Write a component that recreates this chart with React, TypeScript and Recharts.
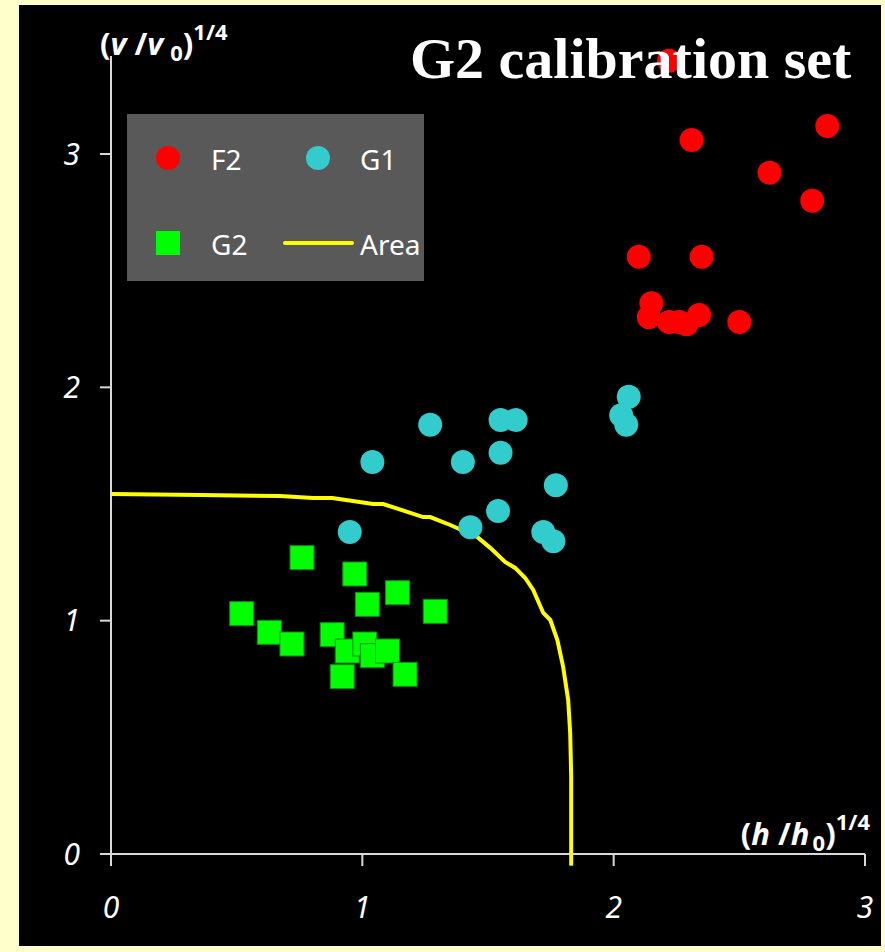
import { ScatterChart, Scatter, XAxis, YAxis, Legend, ReferenceLine } from 'recharts'

// calibration points, (h/h0)^1/4 vs (v/v0)^1/4
const F2 = [
  { x: 2.22, y: 3.4 },
  { x: 2.31, y: 3.06 },
  { x: 2.85, y: 3.12 },
  { x: 2.62, y: 2.92 },
  { x: 2.79, y: 2.8 },
  { x: 2.1, y: 2.56 },
  { x: 2.35, y: 2.56 },
  { x: 2.15, y: 2.36 },
  { x: 2.14, y: 2.3 },
  { x: 2.22, y: 2.28 },
  { x: 2.26, y: 2.28 },
  { x: 2.29, y: 2.27 },
  { x: 2.34, y: 2.31 },
  { x: 2.5, y: 2.28 },
]

const G1 = [
  { x: 1.27, y: 1.84 },
  { x: 1.04, y: 1.68 },
  { x: 1.4, y: 1.68 },
  { x: 1.55, y: 1.86 },
  { x: 1.61, y: 1.86 },
  { x: 1.55, y: 1.72 },
  { x: 1.77, y: 1.58 },
  { x: 1.54, y: 1.47 },
  { x: 1.43, y: 1.4 },
  { x: 0.95, y: 1.38 },
  { x: 1.72, y: 1.38 },
  { x: 1.76, y: 1.34 },
  { x: 2.06, y: 1.96 },
  { x: 2.03, y: 1.88 },
  { x: 2.05, y: 1.84 },
]

const G2 = [
  { x: 0.76, y: 1.27 },
  { x: 0.97, y: 1.2 },
  { x: 1.14, y: 1.12 },
  { x: 1.02, y: 1.07 },
  { x: 0.52, y: 1.03 },
  { x: 1.29, y: 1.04 },
  { x: 0.63, y: 0.95 },
  { x: 0.72, y: 0.9 },
  { x: 0.88, y: 0.94 },
  { x: 0.94, y: 0.87 },
  { x: 1.01, y: 0.9 },
  { x: 1.04, y: 0.85 },
  { x: 1.1, y: 0.87 },
  { x: 0.92, y: 0.76 },
  { x: 1.17, y: 0.77 },
]

// boundary of the G2 area
const AREA = [
  { x: 0, y: 1.543 },
  { x: 0.354, y: 1.539 },
  { x: 0.673, y: 1.534 },
  { x: 0.804, y: 1.526 },
  { x: 0.88, y: 1.526 },
  { x: 1.043, y: 1.5 },
  { x: 1.083, y: 1.5 },
  { x: 1.242, y: 1.444 },
  { x: 1.27, y: 1.444 },
  { x: 1.35, y: 1.41 },
  { x: 1.457, y: 1.359 },
  { x: 1.509, y: 1.312 },
  { x: 1.568, y: 1.252 },
  { x: 1.608, y: 1.226 },
  { x: 1.648, y: 1.183 },
  { x: 1.68, y: 1.132 },
  { x: 1.72, y: 1.033 },
  { x: 1.748, y: 1.003 },
  { x: 1.776, y: 0.917 },
  { x: 1.799, y: 0.802 },
  { x: 1.819, y: 0.66 },
  { x: 1.827, y: 0.519 },
  { x: 1.831, y: 0.33 },
  { x: 1.831, y: 0 },
]
// the curve runs a little past the x axis
const AREA_TAIL_Y = -0.05

const X_TICKS = [0, 1, 2, 3]
const Y_TICKS = [0, 1, 2, 3]
const Y_MAX = 3.42

const COLORS: Record<string, string> = {
  F2: '#FF0000',
  G1: '#33CCCC',
  G2: '#00FF00',
  Area: '#FFFF00',
}
const LEGEND_ORDER = ['F2', 'G1', 'G2', 'Area']

const W = 885
const H = 952
const FONT = '"Noto Sans", sans-serif'
const AXIS = '#d9d9d9'

function Dot(color: string) {
  return (p: any) => <circle cx={p.cx} cy={p.cy} r={12} fill={color} />
}

function Square(p: any) {
  return <rect x={p.cx - 12} y={p.cy - 12} width={24} height={24} fill={COLORS.G2} stroke="#0a8f0a" strokeWidth={1} />
}

function LegendBox({ payload }: any) {
  const items = LEGEND_ORDER.filter(n => (payload ?? []).some((p: any) => p.value === n))
  const markerX = [41, 191]
  const textX = [84, 233]
  const rowY = [44, 129]
  return (
    <svg width={297} height={167} style={{ display: 'block' }}>
      <rect width={297} height={167} fill="#595959" />
      {items.map((name, i) => {
        const col = i % 2
        const y = rowY[Math.floor(i / 2)]
        const mx = markerX[col]
        let marker
        if (name === 'G2') marker = <rect x={mx - 12} y={y - 12} width={24} height={24} fill={COLORS.G2} />
        else if (name === 'Area') marker = <line x1={mx - 33} x2={mx + 34} y1={y} y2={y} stroke={COLORS.Area} strokeWidth={4} strokeLinecap="round" />
        else marker = <circle cx={mx} cy={y} r={12} fill={COLORS[name]} />
        return (
          <g key={name}>
            {marker}
            <text x={textX[col]} y={y + 12} fill="#fff" fontSize={28} fontFamily={FONT}>{name}</text>
          </g>
        )
      })}
    </svg>
  )
}

function YTitle({ viewBox }: any) {
  const x = viewBox.x + viewBox.width - 11
  const y = viewBox.y - 1
  return (
    <text x={x} y={y} fill="#fff" fontSize={31} fontWeight="bold" fontFamily={FONT}>
      (<tspan fontStyle="italic">v</tspan> /<tspan fontStyle="italic">v</tspan>
      <tspan fontSize={22} dx={7} dy={6}>0</tspan>
      <tspan dy={-6}>)</tspan>
      <tspan fontSize={22} dy={-15}>1/4</tspan>
    </text>
  )
}

function XTitle({ viewBox }: any) {
  const x = viewBox.x + viewBox.width + 5
  const y = viewBox.y - 9
  return (
    <text x={x} y={y} textAnchor="end" fill="#fff" fontSize={31} fontWeight="bold" fontFamily={FONT}>
      (<tspan fontStyle="italic">h</tspan> /<tspan fontStyle="italic">h</tspan>
      <tspan fontSize={22} dx={3} dy={6}>0</tspan>
      <tspan dy={-6}>)</tspan>
      <tspan fontSize={22} dy={-15}>1/4</tspan>
    </text>
  )
}

const tickStyle = { fill: '#fff', fontSize: 30, fontStyle: 'italic', fontFamily: FONT }

export default function App() {
  const last = AREA[AREA.length - 1]
  return (
    <div style={{ position: 'absolute', left: 0, top: 0, width: W, height: H, background: '#FFFFCC' }}>
      <div style={{ position: 'absolute', left: 19, top: 5, width: 862, height: 941, background: '#000' }} />
      <div style={{ position: 'absolute', left: 0, top: 0 }}>
        <ScatterChart width={W} height={H} margin={{ top: 56, right: 20, bottom: 38, left: 51 }}>
          <XAxis
            type="number"
            dataKey="x"
            domain={[0, 3]}
            ticks={X_TICKS}
            interval={0}
            height={60}
            tickSize={12}
            tickMargin={31}
            axisLine={{ stroke: AXIS, strokeWidth: 2 }}
            tickLine={{ stroke: AXIS, strokeWidth: 2 }}
            tick={tickStyle}
            label={XTitle}
          />
          <YAxis
            type="number"
            dataKey="y"
            domain={[0, Y_MAX]}
            ticks={Y_TICKS}
            interval={0}
            width={60}
            tickSize={11}
            tickMargin={20}
            axisLine={{ stroke: AXIS, strokeWidth: 2 }}
            tickLine={{ stroke: AXIS, strokeWidth: 2 }}
            tick={tickStyle}
            label={YTitle}
          />
          <Legend
            layout="horizontal"
            verticalAlign="middle"
            align="center"
            wrapperStyle={{ left: 127, top: 114, width: 297, height: 167 }}
            content={LegendBox}
          />
          <Scatter
            name="Area"
            data={AREA}
            fill={COLORS.Area}
            line={{ stroke: COLORS.Area, strokeWidth: 4 }}
            lineJointType="linear"
            shape={() => <g />}
            isAnimationActive={false}
          />
          <ReferenceLine
            segment={[{ x: last.x, y: 0 }, { x: last.x, y: AREA_TAIL_Y }]}
            stroke={COLORS.Area}
            strokeWidth={4}
            ifOverflow="visible"
          />
          <Scatter name="G2" data={G2} fill={COLORS.G2} shape={Square} isAnimationActive={false} />
          <Scatter name="G1" data={G1} fill={COLORS.G1} shape={Dot(COLORS.G1)} isAnimationActive={false} />
          <Scatter name="F2" data={F2} fill={COLORS.F2} shape={Dot(COLORS.F2)} isAnimationActive={false} />
        </ScatterChart>
      </div>
      <svg width={W} height={H} style={{ position: 'absolute', left: 0, top: 0, pointerEvents: 'none' }}>
        <text x={410} y={78} fill="#fff" fontSize={58} fontWeight="bold" fontFamily='"Liberation Serif", "Times New Roman", serif'>
          G2 calibration set
        </text>
      </svg>
    </div>
  )
}
